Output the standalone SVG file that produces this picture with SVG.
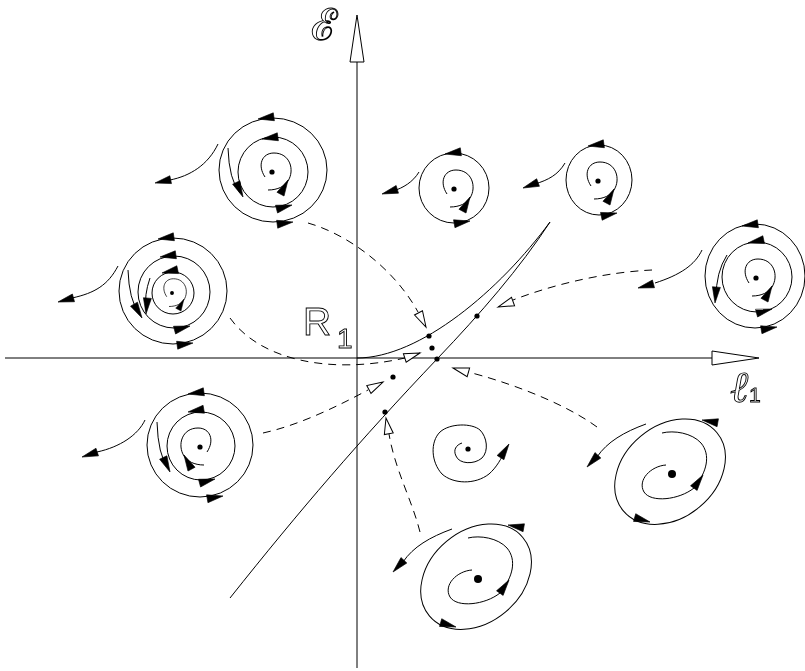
<svg xmlns="http://www.w3.org/2000/svg" xmlns:xlink="http://www.w3.org/1999/xlink" width="805" height="671" viewBox="0 0 805 671">
<style>
.ln{fill:none;stroke:#000;stroke-width:1}
.dl{fill:none;stroke:#000;stroke-width:1;stroke-dasharray:8,6}
.fa{fill:#000;stroke:#000;stroke-width:0.6}
.oa{fill:#fff;stroke:#000;stroke-width:1}
.dot{fill:#000}
.ol{fill:none;stroke:#000;stroke-width:0.9}
</style>
<defs>
<filter id="gray" filterUnits="userSpaceOnUse" x="0" y="0" width="805" height="671"><feOffset dx="0" dy="0"/></filter>
<path id="fa" class="fa" d="M0,0 L-16,-4 L-16,4 Z"/>
<path id="oa" class="oa" d="M0,0 L-16,-4.5 L-16,4.5 Z"/>
<path id="isp" class="ln" d="M-4,18 C6,18 13,14 16,9 C23,-2 18,-19 2,-19 C-10,-19 -15,-7 -7,5"/>
<g id="inner"><use href="#isp"/><use href="#fa" transform="translate(16,8) rotate(-62)"/><circle class="dot" r="2.6"/></g>
<g id="oval">
<ellipse class="ln" cx="0" cy="-3" rx="61" ry="46" transform="rotate(-40)"/>
<use href="#fa" transform="translate(30,-54) rotate(190)"/>
<use href="#fa" transform="translate(-22,48) rotate(16)"/>
<path class="ln" d="M-6,-9 C-21,-8 -35,6 -28,18 C-21,29 7,26 22,14 C35,-2 39,-19 29,-31 C20,-41 2,-44 -10,-41"/>
<use href="#fa" transform="translate(31,1) rotate(-55)"/>
<path class="ln" d="M-26,-50 C-48,-42 -65,-32 -75,-17"/>
<use href="#fa" transform="translate(-85,-7) rotate(133)"/>
<circle class="dot" r="4"/>
</g>
</defs>
<rect width="805" height="671" fill="#fff"/>

<g id="axes">
<line class="ln" x1="357" y1="668" x2="357" y2="62"/>
<polygon class="oa" points="357,15 350,62 364,62"/>
<line class="ln" x1="5" y1="358" x2="712" y2="358"/>
<polygon class="oa" points="759,358 712,351 712,365"/>
</g>

<g id="labels" filter="url(#gray)">
<text class="ol" x="311" y="40" font-family="DejaVu Serif, serif" font-size="44">ℰ</text>
<text class="ol" x="730" y="402" font-family="DejaVu Serif, serif" font-style="italic" font-size="44">ℓ</text>
<text class="ol" x="749" y="402" font-family="Liberation Sans, sans-serif" font-size="21">1</text>
<text class="ol" x="303" y="335" font-family="Liberation Sans, sans-serif" font-size="39">R</text>
<text class="ol" x="337" y="348" font-family="Liberation Sans, sans-serif" font-size="28">1</text>
</g>

<g id="curves">
<path class="ln" d="M357,358 C420,358 500,290 550,222"/>
<path class="ln" d="M230,598 C300,510 360,440 438,358 C480,314 520,268 550,222"/>
<circle class="dot" cx="429" cy="336" r="2.6"/>
<circle class="dot" cx="432" cy="348" r="2.6"/>
<circle class="dot" cx="437" cy="359" r="2.6"/>
<circle class="dot" cx="477" cy="316" r="2.6"/>
<circle class="dot" cx="393" cy="377" r="2.6"/>
<circle class="dot" cx="385" cy="412" r="2.6"/>
</g>

<g id="connectors">
<path class="dl" d="M308,223 C350,235 395,270 418,312"/>
<use href="#oa" transform="translate(426,327) rotate(62)"/>
<path class="dl" d="M652,270 C610,272 560,282 513,300"/>
<use href="#oa" transform="translate(498,307) rotate(160)"/>
<path class="dl" d="M230,318 C260,360 330,375 405,358"/>
<use href="#oa" transform="translate(420,353) rotate(-18)"/>
<path class="dl" d="M263,433 C300,425 340,405 368,390"/>
<use href="#oa" transform="translate(383,382) rotate(-28)"/>
<path class="dl" d="M597,427 C560,400 500,380 468,372"/>
<use href="#oa" transform="translate(453,368) rotate(196)"/>
<path class="dl" d="M420,532 C412,500 395,470 389,434"/>
<use href="#oa" transform="translate(386,418) rotate(-100)"/>
</g>

<g id="spiral-a">
<ellipse class="ln" cx="273" cy="170" rx="54" ry="52"/>
<ellipse class="ln" cx="273" cy="172" rx="35" ry="35"/>
<use href="#fa" transform="translate(258,119) rotate(172)"/>
<use href="#fa" transform="translate(293,222) rotate(-8)"/>
<use href="#fa" transform="translate(262,139) rotate(172)"/>
<use href="#fa" transform="translate(292,205) rotate(-15)"/>
<path class="ln" d="M228,148 Q229,180 240,193"/>
<use href="#fa" transform="translate(243,197) rotate(65)"/>
<use href="#inner" transform="translate(272,172)"/>
<path class="ln" d="M218,144 C208,165 190,176 170,180"/>
<use href="#fa" transform="translate(155,183) rotate(168)"/>
</g>

<g id="spiral-b">
<ellipse class="ln" cx="173" cy="291" rx="54" ry="53"/>
<ellipse class="ln" cx="174" cy="292" rx="36" ry="36"/>
<ellipse class="ln" cx="173" cy="293" rx="21" ry="21"/>
<use href="#fa" transform="translate(158,239) rotate(172)"/>
<use href="#fa" transform="translate(193,343) rotate(-8)"/>
<use href="#fa" transform="translate(160,257) rotate(172)"/>
<use href="#fa" transform="translate(190,326) rotate(-15)"/>
<use href="#fa" transform="translate(162,273) rotate(168)"/>
<path class="ln" d="M128,270 Q129,300 139,313"/>
<use href="#fa" transform="translate(142,318) rotate(60)"/>
<path class="ln" d="M150,278 Q144,295 146,310"/>
<use href="#fa" transform="translate(146,314) rotate(95)"/>
<use href="#inner" transform="translate(172,293) scale(0.75)"/>
<path class="ln" d="M118,266 C108,285 95,293 72,298"/>
<use href="#fa" transform="translate(58,302) rotate(165)"/>
</g>

<g id="spiral-c">
<ellipse class="ln" cx="454" cy="188" rx="35" ry="35"/>
<use href="#fa" transform="translate(445,154) rotate(172)"/>
<use href="#fa" transform="translate(470,221) rotate(-10)"/>
<use href="#inner" transform="translate(454,189)"/>
<path class="ln" d="M419,172 C413,182 403,188 393,191"/>
<use href="#fa" transform="translate(382,194) rotate(163)"/>
</g>

<g id="spiral-d">
<ellipse class="ln" cx="599" cy="180" rx="33" ry="35"/>
<use href="#fa" transform="translate(588,146) rotate(172)"/>
<use href="#fa" transform="translate(617,213) rotate(-12)"/>
<use href="#inner" transform="translate(598,181)"/>
<path class="ln" d="M565,163 C558,175 548,180 535,184"/>
<use href="#fa" transform="translate(523,188) rotate(160)"/>
</g>

<g id="spiral-e">
<ellipse class="ln" cx="755" cy="276" rx="50" ry="52"/>
<ellipse class="ln" cx="757" cy="277" rx="35" ry="35"/>
<use href="#fa" transform="translate(742,226) rotate(172)"/>
<use href="#fa" transform="translate(777,327) rotate(-10)"/>
<use href="#fa" transform="translate(748,243) rotate(168)"/>
<use href="#fa" transform="translate(772,309) rotate(-15)"/>
<path class="ln" d="M727,255 Q716,272 716,298"/>
<use href="#fa" transform="translate(715,303) rotate(95)"/>
<use href="#inner" transform="translate(756,278)"/>
<path class="ln" d="M702,250 C695,265 680,275 655,283"/>
<use href="#fa" transform="translate(638,288) rotate(165)"/>
</g>

<g id="spiral-f">
<ellipse class="ln" cx="200" cy="445" rx="53" ry="52"/>
<ellipse class="ln" cx="201" cy="446" rx="34" ry="34"/>
<use href="#fa" transform="translate(188,394) rotate(172)"/>
<use href="#fa" transform="translate(223,496) rotate(-10)"/>
<use href="#fa" transform="translate(188,412) rotate(170)"/>
<use href="#fa" transform="translate(215,479) rotate(-15)"/>
<path class="ln" d="M157,422 Q158,455 168,468"/>
<use href="#fa" transform="translate(170,472) rotate(65)"/>
<g transform="translate(200,447) scale(-1,1)"><use href="#inner"/></g>
<path class="ln" d="M145,420 C138,435 120,447 97,452"/>
<use href="#fa" transform="translate(82,457) rotate(162)"/>
</g>

<g id="spiral-g">
<use href="#oval" transform="translate(672,474)"/>
</g>

<g id="spiral-h">
<use href="#oval" transform="translate(478,579)"/>
</g>

<g id="spiral-i">
<path class="ln" d="M462,443 C456,445 453,450 456,456 C459,464 474,465 482,458 C489,451 487,437 480,430 C472,423 450,423 440,432 C430,442 431,462 442,474 C453,484 475,485 489,474 C496,468 502,458 505,450"/>
<use href="#fa" transform="translate(509,444) rotate(-58)"/>
<circle class="dot" cx="468" cy="449" r="2.6"/>
</g>
</svg>
